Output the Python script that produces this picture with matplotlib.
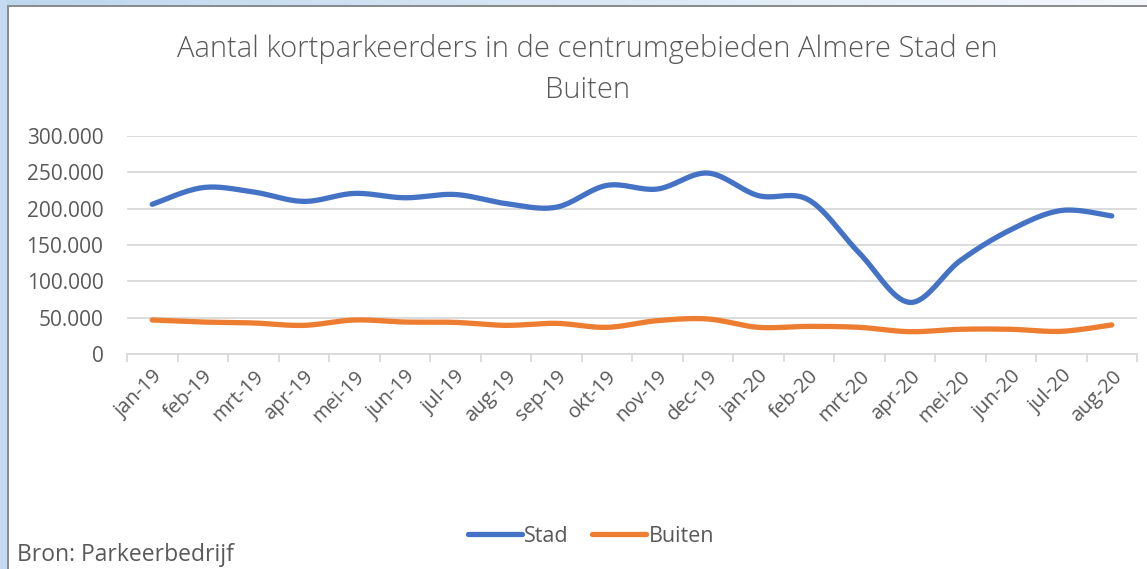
import numpy as np
import matplotlib
matplotlib.use("Agg")
import matplotlib.pyplot as plt
from matplotlib.patches import Rectangle
from matplotlib.ticker import FuncFormatter, FixedLocator

# data
maanden = ["jan-19", "feb-19", "mrt-19", "apr-19", "mei-19", "jun-19", "jul-19",
           "aug-19", "sep-19", "okt-19", "nov-19", "dec-19", "jan-20", "feb-20",
           "mrt-20", "apr-20", "mei-20", "jun-20", "jul-20", "aug-20"]
stad = [206000, 229000, 223000, 210000, 221000, 215000, 219500, 207000, 202000, 232000,
        227000, 249000, 218000, 212000, 139000, 71000, 128500, 171000, 197500, 190000]
buiten = [46800, 44000, 42700, 39400, 46800, 44000, 43500, 39400, 42200, 36700,
          45900, 48200, 36700, 38000, 36700, 30700, 34000, 34000, 31200, 40000]

grijs = "#595959"
plt.rcParams['font.family'] = ['Open Sans', 'DejaVu Sans']


def smooth(y, n=20):
    # Excel-achtige afgevlakte lijn (Catmull-Rom / Bezier)
    y = np.asarray(y, float)
    x = np.arange(len(y), dtype=float)
    px = np.concatenate([[x[0]], x, [x[-1]]])
    py = np.concatenate([[y[0]], y, [y[-1]]])
    xs, ys = [], []
    t = np.linspace(0, 1, n, endpoint=False)
    for i in range(1, len(px) - 2):
        p0, p1, p2, p3 = px[i - 1], px[i], px[i + 1], px[i + 2]
        q0, q1, q2, q3 = py[i - 1], py[i], py[i + 1], py[i + 2]
        c1x, c1y = p1 + (p2 - p0) / 6, q1 + (q2 - q0) / 6
        c2x, c2y = p2 - (p3 - p1) / 6, q2 - (q3 - q1) / 6
        b = lambda a, b_, c, d: ((1 - t) ** 3 * a + 3 * (1 - t) ** 2 * t * b_
                                 + 3 * (1 - t) * t ** 2 * c + t ** 3 * d)
        xs.append(b(p1, c1x, c2x, p2))
        ys.append(b(q1, c1y, c2y, q2))
    xs.append([x[-1]])
    ys.append([y[-1]])
    return np.concatenate(xs), np.concatenate(ys)


fig = plt.figure(figsize=(11.47, 5.69), dpi=100)
ax = fig.add_axes([127 / 1147, 1 - 354 / 569, 1010 / 1147, 218 / 569])

sx, sy = smooth(stad)
bx, by = smooth(buiten)
ax.plot(sx, sy, color="#4472C4", lw=3.8, solid_capstyle="round", label="Stad")
ax.plot(bx, by, color="#ED7D31", lw=3.8, solid_capstyle="round", label="Buiten")

ax.set_xlim(-0.5, len(maanden) - 0.5)
ax.set_ylim(0, 300000)
ax.set_yticks(np.arange(0, 300001, 50000))
ax.yaxis.set_major_formatter(FuncFormatter(
    lambda v, p: "0" if v == 0 else "{:,.0f}".format(v).replace(",", ".")))
ax.grid(axis="y", color="#D9D9D9", lw=1.3)
ax.set_axisbelow(True)

ax.set_xticks(np.arange(len(maanden)))
ax.set_xticklabels(maanden, rotation=45, ha="right", va="top",
                   rotation_mode="anchor")
ax.xaxis.set_minor_locator(FixedLocator(np.arange(-0.5, len(maanden), 1)))
ax.tick_params(axis="x", which="major", length=0, pad=9, labelsize=14.5,
               labelcolor=grijs)
ax.tick_params(axis="x", which="minor", length=6, width=1.3, color="#D9D9D9")
ax.tick_params(axis="y", length=0, pad=17, labelsize=15, labelcolor=grijs)

for s in ["top", "right", "left"]:
    ax.spines[s].set_visible(False)
ax.spines["bottom"].set_color("#D9D9D9")
ax.spines["bottom"].set_linewidth(1.3)

fig.text(587 / 1147, 1 - 34 / 569,
         "Aantal kortparkeerders in de centrumgebieden Almere Stad en\nBuiten",
         ha="center", va="top", fontsize=21, color=grijs, fontweight="light",
         linespacing=1.5)

fig.legend(loc="center", bbox_to_anchor=(591 / 1147, 1 - 536 / 569), ncol=2,
           frameon=False, fontsize=15.5, handlelength=2.5, columnspacing=1.1,
           handletextpad=0.1, labelcolor=grijs)

fig.text(17 / 1147, 1 - 555 / 569, "Bron: Parkeerbedrijf", ha="left",
         va="center", fontsize=16.5, color=grijs)

# rand van het venster
fig.add_artist(Rectangle((0, 0), 7 / 1147, 1, transform=fig.transFigure,
                         color="#C5D9F1", lw=0))
fig.add_artist(Rectangle((7 / 1147, 0), 2 / 1147, 1 - 5 / 569,
                         transform=fig.transFigure, color="#8C8C8C", lw=0))
grad = np.linspace(0, 1, 256).reshape(1, -1)
top = fig.add_axes([0, 1 - 5 / 569, 1, 5 / 569])
top.imshow(grad, aspect="auto",
           cmap=matplotlib.colors.LinearSegmentedColormap.from_list(
               "rand", ["#BDD7EE", "#F4F8FC"]))
top.axis("off")
fig.add_artist(Rectangle((7 / 1147, 1 - 7 / 569), 1, 2 / 569,
                         transform=fig.transFigure, color="#8C8C8C", lw=0))

fig.savefig("out.png", dpi=100)
